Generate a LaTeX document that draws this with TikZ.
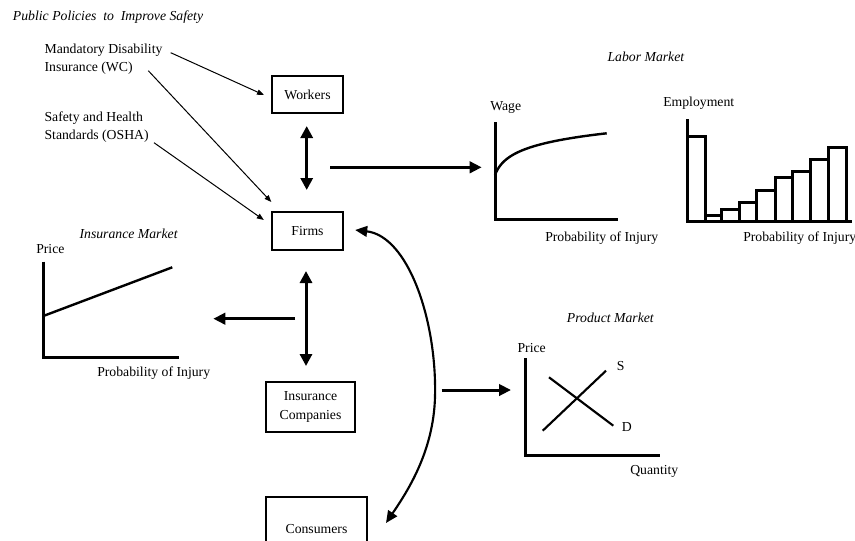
\documentclass[tikz,border=0pt]{standalone}
\usepackage{fontspec}
\setmainfont{Liberation Serif}
\usetikzlibrary{arrows.meta,calc}
\begin{document}
\begin{tikzpicture}[x=0.75pt,y=-0.75pt,
  font=\fontsize{10.3pt}{13.7pt}\selectfont,
  box/.style={draw, line width=1.5pt, inner sep=0pt, align=center},
  lbl/.style={inner sep=0pt, anchor=base west},
  ttl/.style={inner sep=0pt, anchor=base west, font=\fontsize{10.3pt}{13.7pt}\selectfont\itshape},
  twoline/.style={inner sep=0pt, anchor=west, align=left},
  ptr/.style={line width=0.75pt, -{Triangle[length=5.25pt,width=4pt]}},
  fatptr/.style={line width=2.25pt, -{Triangle[length=9pt,width=8.5pt]}},
  fatboth/.style={line width=2.25pt, {Triangle[length=9pt,width=9pt]}-{Triangle[length=9pt,width=9pt]}},
  curvearrow/.style={line width=1.6pt, {Triangle[length=9pt,width=8pt]}-{Triangle[length=9pt,width=8pt]}},
  axis/.style={line width=2.25pt},
  curveline/.style={line width=1.8pt}]
\useasboundingbox (0,0) rectangle (855,540);
\clip (0,0) rectangle (855,540);

% boxes
\node[box, minimum width=53.25pt, minimum height=27.75pt] (workers) at (307.5,94.5) {Workers};
\node[box, minimum width=53.5pt, minimum height=28.5pt] (firms) at (307.5,231) {Firms};
\node[box, minimum width=66.75pt, minimum height=37.5pt] (ins) at (310.5,407) {Insurance\\Companies};
\node[box, minimum width=75.75pt, minimum height=48pt] (consumers) at (316.5,529) {Consumers};

% policy labels
\node[ttl] (pp) at (12.7,20) {Public Policies~~to~~Improve Safety};
\node[twoline] (mdi) at (44.3,59.2) {Mandatory Disability\\Insurance (WC)};
\node[twoline] (osha) at (44.3,126.9) {Safety and Health\\Standards (OSHA)};

\coordinate (s1) at (170.7,52.7);
\coordinate (s2) at (148.3,70.7);
\coordinate (s3) at (154,142.7);
\draw[ptr] (s1) -- ($(workers.west)+(-7,0.5)$);
\draw[ptr] (s2) -- ($(firms.north west)+(0.5,-9)$);
\draw[ptr] (s3) -- ($(firms.west)+(-7,-11)$);

% main arrows
\draw[fatboth] ($(workers.south)+(-0.8,12)$) -- ($(firms.north)+(-0.8,-21)$);
\draw[fatboth] ($(firms.south)+(-1.5,20)$) -- ($(ins.north)+(-4.5,-15)$);
\coordinate (la1) at (330,167.3);
\coordinate (la2) at (481.7,167.3);
\draw[fatptr] (la1) -- (la2);
\coordinate (im1) at (295,318.7);
\coordinate (im2) at (213.3,318.7);
\draw[fatptr] (im1) -- (im2);
\coordinate (pm1) at (441.7,390);
\coordinate (pm2) at (511,390);
\draw[fatptr] (pm1) -- (pm2);

\coordinate (cmid) at (435,397);
\draw[curvearrow] ($(firms.east)+(11,-1)$) .. controls (408,236) and (437,320) .. (cmid)
   .. controls (433.5,452) and (407,492) .. ($(consumers.east)+(18,-6)$);

% Labor market
\node[ttl] (lmt) at (607.3,61.7) {Labor Market};
\node[lbl] (wage) at (490,110) {Wage};
\node[lbl] (prob1) at (545,241) {Probability of Injury};
\draw[axis] (495,122.3) -- (495,219.3) -- (618.3,219.3);
\draw[curveline] plot[domain=0:111.7, samples=80, smooth] ({495+\x},{175-13.24*ln(1+\x/5)});

\node[lbl] (emp) at (663,106) {Employment};
\node[lbl] (prob2) at (743,241) {Probability of Injury};
\foreach \a/\b/\t in {687.3/705.7/136, 705.7/721.7/215, 721.7/739.3/209, 739.3/756.7/202.7,
  756.7/775/190.7, 775/792.7/177.7, 792.7/810.7/171.7, 810.7/828.3/159.3, 828.3/846/147.7}
  \draw[axis] (\a,221) rectangle (\b,\t);
\draw[axis] (687.3,119.3) -- (687.3,221) -- (852,221);

% Insurance market
\node[ttl] (imt) at (79.3,238.5) {Insurance Market};
\node[lbl] (price1) at (36,253.5) {Price};
\node[lbl] (prob3) at (97,376) {Probability of Injury};
\draw[axis] (43.3,261.7) -- (43.3,357.7) -- (179,357.7);
\draw[line width=1.8pt] (43.3,316) -- (172.3,267.3);

% Product market
\node[ttl] (pmt) at (566.7,322.5) {Product Market};
\node[lbl] (price2) at (517.3,352) {Price};
\node[lbl] (slab) at (616.7,370) {S};
\node[lbl] (dlab) at (621.7,431) {D};
\node[lbl] (qty) at (630,474.5) {Quantity};
\draw[axis] (525.7,358) -- (525.7,455) -- (660,455);
\draw[line width=1.6pt] (542.7,430.7) -- (606,370.7);
\draw[line width=1.6pt] (549,377.3) -- (613.3,425.7);
\end{tikzpicture}
\end{document}
